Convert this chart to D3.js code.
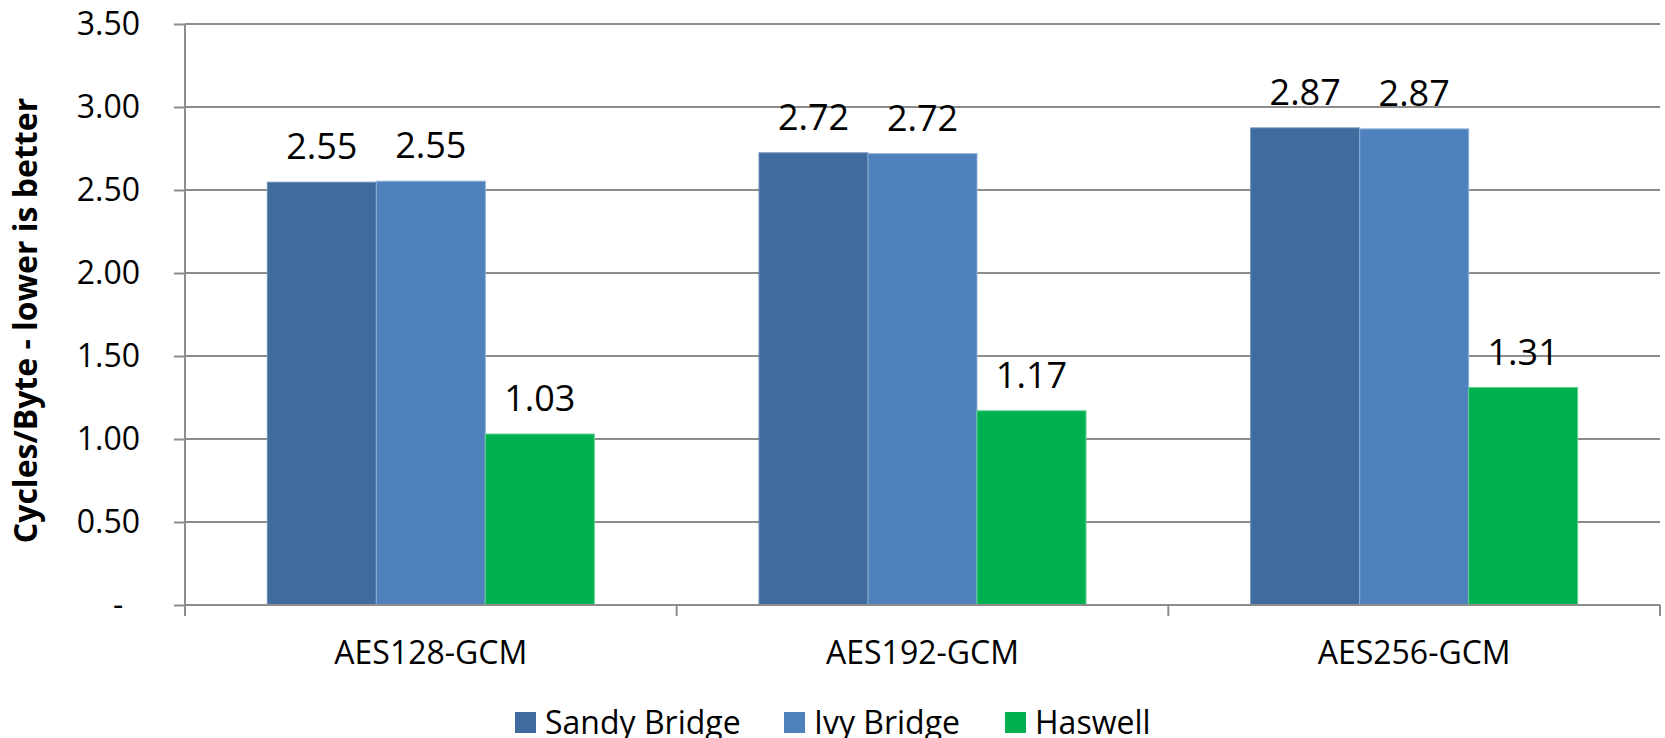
<!DOCTYPE html>
<html>
<head>
<meta charset="utf-8">
<script src="https://cdn.jsdelivr.net/npm/d3@7"></script>
<style>
  body { margin: 0; background: #fff; }
  .chart text { font-family: "Open Sans", sans-serif; fill: #000; }
</style>
</head>
<body>
<svg class="chart"></svg>
<script>
  var categories = ["AES128-GCM", "AES192-GCM", "AES256-GCM"];
  var seriesNames = ["Sandy Bridge", "Ivy Bridge", "Haswell"];
  var sandyBridge = [2.547, 2.724, 2.874];
  var ivyBridge = [2.553, 2.719, 2.868];
  var haswell = [1.03, 1.17, 1.31];
  var yTicks = [0, 0.5, 1.0, 1.5, 2.0, 2.5, 3.0, 3.5];
  var colors = ["#406B9E", "#4F81BD", "#00B050"];
  var edgeColors = ["#6b8cb5", "#8fb0d8", "#5fd08f"];

  var series = [sandyBridge, ivyBridge, haswell];

  var width = 1665, height = 738;
  var plotLeft = 185, plotRight = 1660, plotTop = 24, plotBottom = 605;

  var svg = d3.select(".chart")
    .attr("width", width)
    .attr("height", height);

  var x = d3.scaleBand()
    .domain(categories)
    .range([plotLeft, plotRight])
    .paddingInner(0.335)
    .paddingOuter(0.1675);

  var xs = d3.scaleBand()
    .domain(seriesNames)
    .range([0, x.bandwidth()]);

  var y = d3.scaleLinear()
    .domain([0, 3.5])
    .range([plotBottom, plotTop]);

  // gridlines
  svg.append("g")
    .selectAll("line")
    .data(yTicks.slice(1))
    .enter().append("line")
      .attr("x1", plotLeft).attr("x2", plotRight)
      .attr("y1", function(d) { return y(d); })
      .attr("y2", function(d) { return y(d); })
      .attr("stroke", "#8c8c8c")
      .attr("stroke-width", 2);

  // bars
  var groups = svg.selectAll("g.grp")
    .data(categories)
    .enter().append("g")
      .attr("class", "grp")
      .attr("transform", function(d) { return "translate(" + x(d) + ",0)"; });

  groups.selectAll("rect")
    .data(function(d, i) { return series.map(function(s, j) { return {name: seriesNames[j], v: s[i], j: j}; }); })
    .enter().append("rect")
      .attr("x", function(d) { return xs(d.name); })
      .attr("width", xs.bandwidth())
      .attr("y", function(d) { return y(d.v); })
      .attr("height", function(d) { return plotBottom - y(d.v); })
      .attr("fill", function(d) { return colors[d.j]; })
      .attr("stroke", function(d) { return edgeColors[d.j]; })
      .attr("stroke-width", 1);

  groups.selectAll("text")
    .data(function(d, i) { return series.map(function(s, j) { return {name: seriesNames[j], v: s[i]}; }); })
    .enter().append("text")
      .attr("x", function(d) { return xs(d.name) + xs.bandwidth() / 2; })
      .attr("y", function(d) { return y(d.v) - 23; })
      .attr("text-anchor", "middle")
      .attr("font-size", "36px")
      .text(function(d) { return d3.format(".2f")(d.v); });

  // y axis
  var yAxis = svg.append("g")
    .attr("transform", "translate(" + plotLeft + ",0)")
    .call(d3.axisLeft(y)
      .tickValues(yTicks)
      .tickSize(11)
      .tickPadding(34)
      .tickFormat(function(d) { return d === 0 ? "-\u00A0\u00A0" : d3.format(".2f")(d); }));
  yAxis.select(".domain").remove();
  yAxis.selectAll("line").attr("stroke", "#8c8c8c").attr("stroke-width", 2);
  yAxis.selectAll("text").attr("font-size", "32px").attr("font-family", "Open Sans");
  svg.append("line")
    .attr("x1", plotLeft).attr("x2", plotLeft)
    .attr("y1", plotTop).attr("y2", plotBottom + 11)
    .attr("stroke", "#8c8c8c").attr("stroke-width", 2);

  // x axis
  svg.append("line")
    .attr("x1", plotLeft).attr("x2", plotRight)
    .attr("y1", plotBottom).attr("y2", plotBottom)
    .attr("stroke", "#8c8c8c").attr("stroke-width", 2);
  var step = x.step();
  svg.append("g").selectAll("line")
    .data(d3.range(categories.length + 1))
    .enter().append("line")
      .attr("x1", function(i) { return plotLeft + i * step; })
      .attr("x2", function(i) { return plotLeft + i * step; })
      .attr("y1", plotBottom).attr("y2", plotBottom + 11)
      .attr("stroke", "#8c8c8c").attr("stroke-width", 2);

  svg.append("g").selectAll("text")
    .data(categories)
    .enter().append("text")
      .attr("x", function(d) { return x(d) + x.bandwidth() / 2; })
      .attr("y", 664)
      .attr("text-anchor", "middle")
      .attr("font-size", "32px")
      .text(function(d) { return d; });

  // y title
  svg.append("text")
    .attr("transform", "translate(37," + ((plotTop + plotBottom) / 2 + 6) + ") rotate(-90)")
    .attr("text-anchor", "middle")
    .attr("font-size", "32px")
    .attr("font-weight", "bold")
    .text("Cycles/Byte - lower is better");

  // legend
  var legendX = [515, 784, 1005];
  var legend = svg.append("g").selectAll("g")
    .data(seriesNames)
    .enter().append("g")
      .attr("transform", function(d, i) { return "translate(" + legendX[i] + ",712)"; });
  legend.append("rect")
    .attr("width", 21).attr("height", 21)
    .attr("fill", function(d, i) { return colors[i]; });
  legend.append("text")
    .attr("x", 30)
    .attr("y", 22)
    .attr("font-size", "32px")
    .text(function(d) { return d; });
</script>
</body>
</html>
